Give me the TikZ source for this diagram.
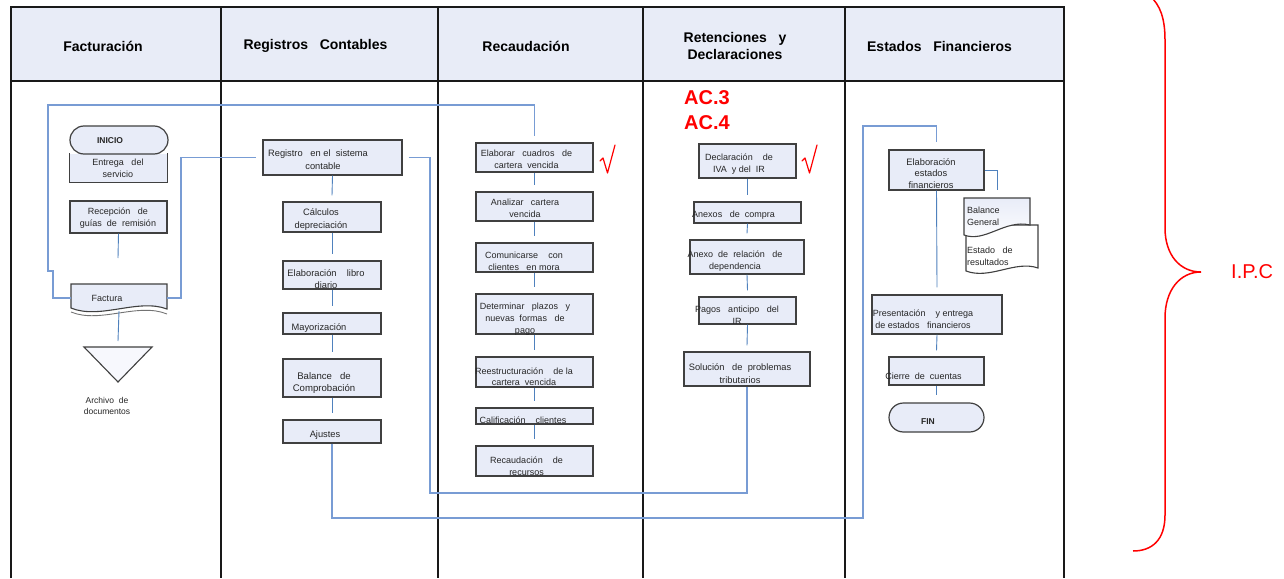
\documentclass[tikz,border=0pt]{standalone}
\usepackage{fontspec}
\setmainfont{Liberation Sans}
\definecolor{boxfill}{RGB}{232,236,248}
\definecolor{headfill}{RGB}{232,236,247}
\definecolor{boxline}{RGB}{64,64,64}
\definecolor{linkblue}{RGB}{79,129,189}
\definecolor{loopblue}{RGB}{120,156,212}
\definecolor{redmark}{RGB}{255,0,0}
\begin{document}
\begin{tikzpicture}[x=1pt,y=-1pt,
  lane/.style={draw=black!90, line width=1.6pt},
  box/.style={draw=boxline, line width=1.2pt, fill=boxfill, inner sep=0pt},
  txt/.style={font=\fontsize{9}{12}\selectfont, align=center, inner sep=0pt, text=black!85},
  head/.style={font=\bfseries\fontsize{14}{17}\selectfont, align=center, inner sep=0pt},
  conn/.style={draw=linkblue, line width=0.9pt},
  loopline/.style={draw=loopblue, line width=1.1pt},
  docshape/.style={draw=boxline, line width=1.1pt},
  redtext/.style={text=redmark, inner sep=0pt},
  checkstroke/.style={draw=redmark, line width=1.2pt, line join=round, line cap=round}
]
\useasboundingbox (0,0) rectangle (1284,578);
\fill[white] (0,0) rectangle (1284,578);

% ---------- swimlane frame ----------
\fill[headfill] (11,7) rectangle (1064,81);
\draw[lane] (11,578) -- (11,7) -- (1064,7) -- (1064,578);
\draw[lane] (11,81) -- (1064,81);
\foreach \xx in {221,438,643,845} \draw[lane] (\xx,7) -- (\xx,578);

\node[head] (h1) at (103,46) {Facturación};
\node[head] (h2) at (315.5,46) {Registros~~~Contables};
\node[head] (h3) at (526,46) {Recaudación};
\node[head] (h4) at (735,46) {Retenciones~~~y\\Declaraciones};
\node[head] (h5) at (939.5,46) {Estados~~~Financieros};

% ---------- Facturacion ----------
\node[box, draw=none, minimum width=97, minimum height=28] (entrega) at (118.5,168) {};
\draw[boxline, line width=1.2pt] (entrega.north west) -- (entrega.south west) -- (entrega.south east) -- (entrega.north east);
\node[box, rounded corners=14pt, minimum width=98, minimum height=28] (inicio) at (119,140) {};
\node[txt, font=\bfseries\fontsize{8.5}{10}\selectfont] (t-inicio) at (110,141) {INICIO};
\node[txt] (t-entrega) at (118,168.5) {Entrega~~~del\\servicio};

\node[box, minimum width=97, minimum height=32] (recep) at (118.5,217) {};
\node[txt] (t-recep) at (118,218.5) {Recepción~~~de\\guías~~de~~remisión};
\coordinate (recepend) at (118,258);

% Factura document
\draw[black!55, line width=0.9pt] (71,312) .. controls (100,324) and (138,302) .. (167,314);
\filldraw[docshape, fill=boxfill] (71,284) -- (167,284) -- (167,309)
  .. controls (138,298) and (100,320) .. (71,308) -- cycle;
\node[inner sep=0pt, minimum width=96, minimum height=26] (factura) at (119,298) {};
\node[txt] (t-factura) at (107,298) {Factura};

% Archive triangle
\filldraw[draw=boxline, line width=1.1pt, fill=boxfill!35] (84,347) -- (152,347) -- (118,382) -- cycle;
\coordinate (archtop) at (118,347);
\node[txt, font=\fontsize{8.5}{11}\selectfont] (t-archivo) at (107,405.5) {Archivo~~de\\documentos};

% ---------- Registros Contables ----------
\node[box, minimum width=139, minimum height=35] (registro) at (332.5,157.5) {};
\node[txt, font=\fontsize{9.3}{13}\selectfont] (t-registro) at (318,159.5) {Registro~~~en el~~sistema\\\hspace*{10pt}contable};
\node[box, minimum width=98, minimum height=30] (calculos) at (332,217) {};
\node[txt, font=\fontsize{9.3}{13}\selectfont] (t-calculos) at (321,219.5) {Cálculos\\depreciación};
\node[box, minimum width=98, minimum height=28] (libro) at (332,275) {};
\node[txt, font=\fontsize{9.3}{12}\selectfont] (t-libro) at (326,279) {Elaboración~~~~libro\\diario};
\node[box, minimum width=98, minimum height=21] (mayor) at (332,323.5) {};
\node[txt, font=\fontsize{9.3}{12}\selectfont] (t-mayor) at (319,328) {Mayorización};
\node[box, minimum width=98, minimum height=38] (balance) at (332,378) {};
\node[txt, font=\fontsize{9.6}{12}\selectfont] (t-balance) at (324,383.5) {Balance~~~de\\Comprobación};
\node[box, minimum width=98, minimum height=23] (ajustes) at (332,431.5) {};
\node[txt, font=\fontsize{9.3}{12}\selectfont] (t-ajustes) at (325,435.5) {Ajustes};

% ---------- Recaudacion ----------
\node[box, minimum width=117, minimum height=29] (cuadros) at (534.5,157.5) {};
\node[txt] (t-cuadros) at (526.5,159.5) {Elaborar~~~cuadros~~~de\\cartera~~vencida};
\node[box, minimum width=117, minimum height=29] (analizar) at (534.5,206.5) {};
\node[txt] (t-analizar) at (525,208.5) {Analizar~~~cartera\\vencida};
\node[box, minimum width=117, minimum height=29] (comunic) at (534.5,257.5) {};
\node[txt] (t-comunic) at (524,261) {Comunicarse~~~~con\\clientes~~~en~mora};
\node[box, minimum width=117, minimum height=40] (plazos) at (534.5,314) {};
\node[txt] (t-plazos) at (525,319) {Determinar~~~plazos~~~y\\nuevas~~formas~~~de\\pago};
\node[box, minimum width=117, minimum height=30] (reestr) at (534.5,372) {};
\node[txt, font=\fontsize{9}{11.5}\selectfont] (t-reestr) at (524,376.5) {Reestructuración~~~~de~la\\cartera~~vencida};
\node[box, minimum width=117, minimum height=16] (calif) at (534.5,416) {};
\node[txt] (t-calif) at (523,420) {Calificación~~~~clientes};
\node[box, minimum width=117, minimum height=30] (recursos) at (534.5,461) {};
\node[txt] (t-recursos) at (526.5,466) {Recaudación~~~~de\\recursos};
% red check beside the first task
\coordinate (chk1) at (600,161);
\draw[checkstroke] (chk1) -- ++(3,-3) -- ++(4.5,15) -- ++(7.5,-28);

% ---------- Retenciones y Declaraciones ----------
\node[redtext, font=\bfseries\fontsize{20}{22}\selectfont] (ac3) at (707,98) {AC.3};
\node[redtext, font=\bfseries\fontsize{20}{22}\selectfont] (ac4) at (707,123) {AC.4};
\node[box, minimum width=97, minimum height=34] (iva) at (747.5,161) {};
\node[txt] (t-iva) at (739,164) {Declaración~~~~de\\IVA~~y~del~~IR};
\coordinate (chk2) at (802,161);
\draw[checkstroke] (chk2) -- ++(3,-3) -- ++(4.5,15) -- ++(7.5,-28);
\node[box, minimum width=107, minimum height=21] (anexos) at (747.5,212.5) {};
\node[txt] (t-anexos) at (733.5,215) {Anexos~~~de~~compra};
\node[box, minimum width=114, minimum height=34] (relacion) at (747,257) {};
\node[txt] (t-relacion) at (735,261) {Anexo~~de~~relación~~~de\\dependencia};
\node[box, minimum width=97, minimum height=27] (pagos) at (747.5,310.5) {};
\node[txt] (t-pagos) at (737,315.5) {Pagos~~~anticipo~~~del\\IR};
\node[box, minimum width=126, minimum height=34] (solucion) at (747,369) {};
\node[txt, font=\fontsize{9.3}{13}\selectfont] (t-solucion) at (740,373.5) {Solución~~~de~~problemas\\tributarios};

% ---------- Estados Financieros ----------
\node[box, minimum width=95, minimum height=40] (elabest) at (936.5,170) {};
\node[txt, font=\fontsize{9.3}{11.5}\selectfont] (t-elabest) at (931,173.5) {Elaboración\\estados\\financieros};

% statement documents
\filldraw[docshape, fill=white] (966,225) -- (1038,225) -- (1038,268)
  .. controls (1015,260) and (990,280) .. (966,271) -- cycle;
\shade[top color=boxfill, bottom color=white]
  (964,198) -- (1030,198) -- (1030,225)
  .. controls (1005,219) and (985,243) .. (964,235) -- cycle;
\draw[docshape] (964,198) -- (1030,198) -- (1030,225)
  .. controls (1005,219) and (985,243) .. (964,235) -- cycle;
\node[inner sep=0pt, minimum width=66, minimum height=37] (balgen) at (997,216.5) {};
\node[txt, align=left, anchor=west] (t-balgen) at (967,216.5) {Balance\\General};
\node[txt, align=left, anchor=west] (t-estres) at (967,256) {Estado~~~de\\resultados};

\node[box, minimum width=130, minimum height=39] (present) at (937,314.5) {};
\node[txt] (t-present) at (923,319) {Presentación~~~~y entrega\\de~estados~~~financieros};
\node[box, minimum width=95, minimum height=28] (cierre) at (936.5,371) {};
\node[txt] (t-cierre) at (923.5,376) {Cierre~~de~~cuentas};
\node[box, rounded corners=14.5pt, minimum width=95, minimum height=29] (fin) at (936.5,417.5) {};
\node[txt, font=\bfseries\fontsize{8.5}{10}\selectfont] (t-fin) at (928,422) {FIN};

% ---------- connectors ----------
\draw[conn] (recep.south) -- (recepend);
\draw[conn] (factura.south) -- ([yshift=6pt]archtop);
\draw[loopline] (factura.west) -- (53,298) -- (53,271) -- (48,271) -- (48,105) -| ([yshift=6pt]cuadros.north);
\draw[loopline] (factura.east) -- (181,298) |- ([xshift=-6pt]registro.west);

\draw[conn] (registro.south) -- ([yshift=6pt]calculos.north);
\draw[conn] (calculos.south) -- ([yshift=6pt]libro.north);
\draw[conn] (libro.south) -- ([yshift=6pt]mayor.north);
\draw[conn] (mayor.south) -- ([yshift=6pt]balance.north);
\draw[conn] (balance.south) -- ([yshift=6pt]ajustes.north);

\draw[conn] (cuadros.south) -- ([yshift=6pt]analizar.north);
\draw[conn] (analizar.south) -- ([yshift=6pt]comunic.north);
\draw[conn] (comunic.south) -- ([yshift=6pt]plazos.north);
\draw[conn] (plazos.south) -- ([yshift=6pt]reestr.north);
\draw[conn] (reestr.south) -- ([yshift=6pt]calif.north);
\draw[conn] (calif.south) -- ([yshift=6pt]recursos.north);

\draw[conn] (iva.south) -- ([yshift=6pt]anexos.north);
\draw[conn] (anexos.south) -- ([yshift=6pt]relacion.north);
\draw[conn] (relacion.south) -- ([yshift=6pt]pagos.north);
\draw[conn] (pagos.south) -- ([yshift=6pt]solucion.north);

\draw[conn] (elabest.east) -| ([yshift=8pt]balgen.north);
\draw[conn] (elabest.south) -- ([yshift=7pt]present.north);
\draw[conn] (present.south) -- ([yshift=6pt]cierre.north);
\draw[conn] (cierre.south) -- ([yshift=7pt]fin.north);

% long return lines
\draw[loopline] ([xshift=6pt]registro.east) -| (430,493) -| (solucion.south);
\draw[loopline] (ajustes.south) |- (863,518) -- (863,126) -| ([yshift=7pt]elabest.north);

% ---------- brace ----------
\draw[redmark, line width=1.5pt] (1150,-4) .. controls (1160,5) and (1165,18) .. (1165,40)
  -- (1165,228) .. controls (1165,255) and (1180,272) .. (1201,272)
  .. controls (1180,272) and (1165,290) .. (1165,318)
  -- (1165,515) .. controls (1165,540) and (1152,551) .. (1133,551);
\coordinate (bracetip) at (1201,272);
\node[redtext, font=\fontsize{20}{22}\selectfont, anchor=west] (ipc) at ([xshift=30pt,yshift=0.5pt]bracetip) {I.P.C};
\end{tikzpicture}
\end{document}
